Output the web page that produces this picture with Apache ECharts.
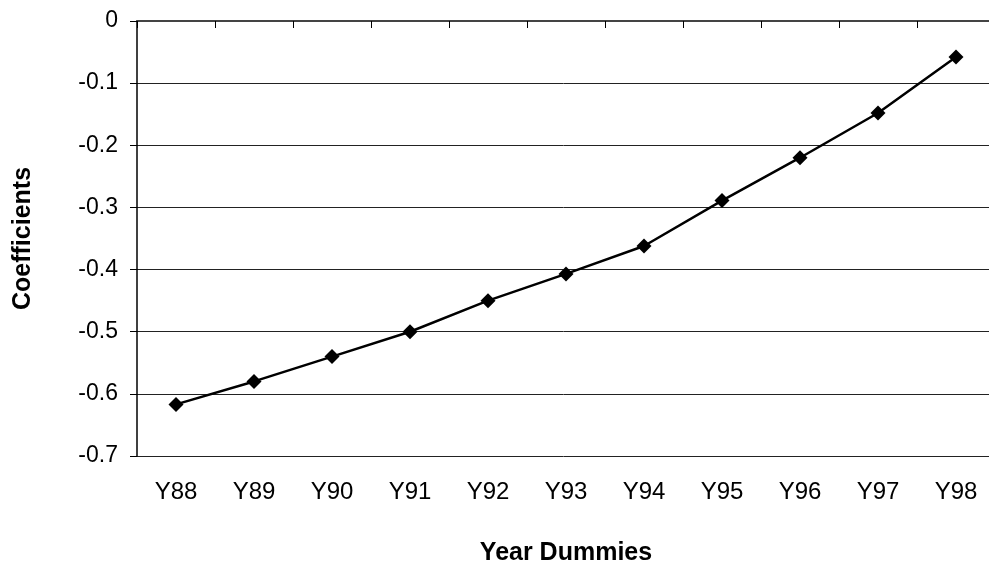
<!DOCTYPE html>
<html>
<head>
<meta charset="utf-8">
<script src="https://cdn.jsdelivr.net/npm/echarts@6/dist/echarts.min.js"></script>
<style>html,body{margin:0;padding:0;background:#fff;}#c{width:989px;height:566px;}</style>
</head>
<body>
<div id="c"></div>
<script>
var categories = ['Y88','Y89','Y90','Y91','Y92','Y93','Y94','Y95','Y96','Y97','Y98'];
var coefficients = [-0.617,-0.580,-0.540,-0.500,-0.450,-0.407,-0.362,-0.289,-0.220,-0.148,-0.058];
var yTicks = {min: -0.7, max: 0, interval: 0.1};

var chart = echarts.init(document.getElementById('c'), null, {renderer: 'canvas'});
chart.setOption({
  animation: false,
  backgroundColor: '#fff',
  grid: {left: 137, top: 21, bottom: 110, right: -6, containLabel: false, outerBoundsMode: 'none'},
  xAxis: {
    type: 'category',
    data: categories,
    boundaryGap: true,
    name: 'Year Dummies',
    nameLocation: 'middle',
    nameGap: 85,
    nameTextStyle: {fontFamily: 'Liberation Sans, Arial', fontSize: 25, fontWeight: 'bold', color: '#000'},
    axisLine: {lineStyle: {color: '#444', width: 2}},
    axisTick: {show: true, inside: false, length: 7, alignWithLabel: false, lineStyle: {color: '#000'}},
    axisLabel: {fontFamily: 'Liberation Sans, Arial', fontSize: 24, color: '#000', margin: 24},
    splitLine: {show: false}
  },
  yAxis: {
    type: 'value',
    min: yTicks.min, max: yTicks.max, interval: yTicks.interval,
    name: 'Coefficients',
    nameLocation: 'middle',
    nameGap: 101,
    nameTextStyle: {fontFamily: 'Liberation Sans, Arial', fontSize: 25, fontWeight: 'bold', color: '#000'},
    axisLine: {show: true, lineStyle: {color: '#000', width: 1.5}},
    axisTick: {show: true, inside: false, length: 7, lineStyle: {color: '#000'}},
    axisLabel: {fontFamily: 'Liberation Sans, Arial', fontSize: 23, color: '#000', margin: 19,
      formatter: function(v){ return String(Math.round(v*10)/10); }},
    splitLine: {show: true, lineStyle: {color: '#222', width: 1}}
  },
  series: [{
    type: 'line',
    data: coefficients,
    symbol: 'diamond',
    symbolSize: 15,
    itemStyle: {color: '#000'},
    lineStyle: {color: '#000', width: 2.5}
  }]
});
</script>
</body>
</html>
